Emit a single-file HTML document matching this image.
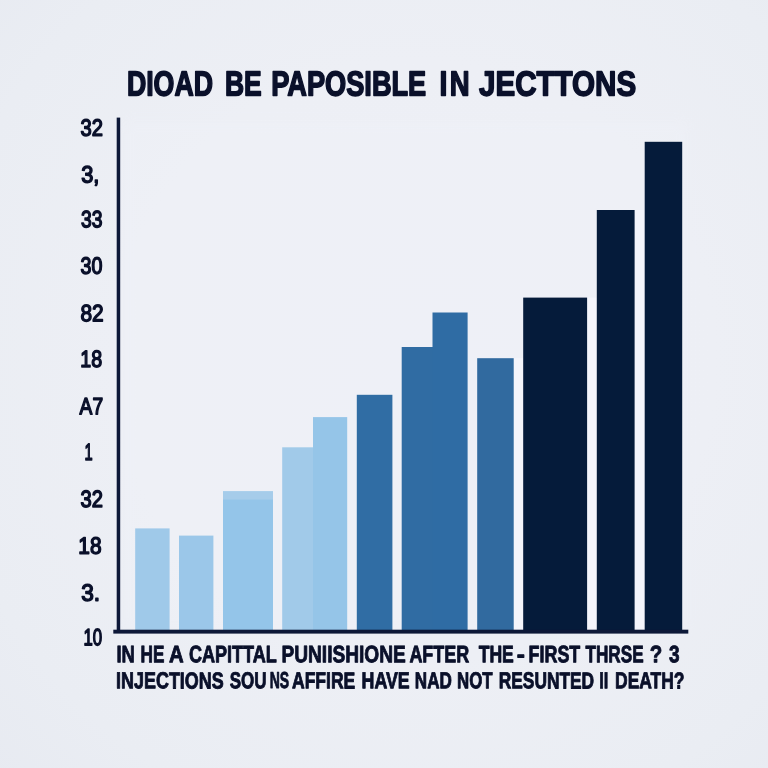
<!DOCTYPE html>
<html lang="en"><head><meta charset="utf-8"><title>Chart</title>
<style>
html,body{margin:0;padding:0;background:#eceef4;}
body{width:768px;height:768px;overflow:hidden;}
svg{display:block;}
text{font-family:"Liberation Sans",sans-serif;font-weight:700;fill:#0a102a;stroke:#0a102a;stroke-linejoin:round;}
.t{stroke-width:1.6px;}
.c{stroke-width:0.9px;}
.y{stroke-width:1.5px;font-weight:400;}
</style></head><body>
<svg width="768" height="768" viewBox="0 0 768 768">
<defs>
<radialGradient id="vg" cx="0.54" cy="0.47" r="0.78">
<stop offset="0" stop-color="#eef0f6"/><stop offset="0.5" stop-color="#edeff5"/><stop offset="0.8" stop-color="#eaedf3"/><stop offset="1" stop-color="#e7eaf1"/>
</radialGradient>
<filter id="bl" x="-10%" y="-10%" width="120%" height="120%"><feGaussianBlur stdDeviation="6"/></filter>
</defs>

<rect width="768" height="768" fill="url(#vg)"/>
<rect x="122" y="120" width="566" height="512" fill="#f1f3fa" opacity="0.25" filter="url(#bl)"/>
<rect x="513.7" y="358.2" width="9.5" height="271.5" fill="#f5f6fb" opacity="0.85"/>
<rect x="587.1" y="297.6" width="9.7" height="332.1" fill="#f5f6fb" opacity="0.85"/>
<rect x="634.6" y="210.0" width="10.1" height="419.7" fill="#f5f6fb" opacity="0.85"/>
<rect x="135.2" y="528.4" width="34.4" height="102.3" fill="#9fc9e9"/>
<rect x="179.0" y="535.6" width="34.4" height="95.1" fill="#9bc7e9"/>
<rect x="223.0" y="491.4" width="50.0" height="139.3" fill="#94c5e9"/>
<rect x="282.2" y="447.3" width="31.3" height="183.4" fill="#a1cae9"/>
<rect x="313.0" y="417.1" width="34.2" height="213.6" fill="#95c5e8"/>
<rect x="356.8" y="394.8" width="35.6" height="235.9" fill="#306da4"/>
<rect x="401.7" y="347.0" width="31.3" height="283.7" fill="#306ca3"/>
<rect x="432.5" y="312.5" width="35.1" height="318.2" fill="#2f6ca4"/>
<rect x="477.2" y="358.2" width="36.5" height="272.5" fill="#316a9f"/>
<rect x="523.2" y="297.6" width="63.9" height="333.1" fill="#051b3a"/>
<rect x="596.8" y="210.0" width="37.8" height="420.7" fill="#051b3a"/>
<rect x="644.7" y="141.8" width="37.5" height="488.9" fill="#051b3a"/>
<rect x="223.0" y="491.4" width="50.0" height="8.2" fill="#a6ccea"/>
<rect x="116.7" y="117.6" width="3.5" height="514" fill="#0d1838"/>
<rect x="113.3" y="629.7" width="575" height="3.9" fill="#0d1838"/>
<text class="t" transform="rotate(0.04 126.9 95.5)" x="126.94" y="95.50" font-size="34.74" textLength="85.98" lengthAdjust="spacingAndGlyphs">DIOAD</text>
<text class="t" transform="rotate(0.04 225.0 95.5)" x="225.02" y="95.50" font-size="34.74" textLength="36.76" lengthAdjust="spacingAndGlyphs">BE</text>
<text class="t" transform="rotate(0.04 271.2 95.5)" x="271.24" y="95.50" font-size="34.74" textLength="155.01" lengthAdjust="spacingAndGlyphs">PAPOSIBLE</text>
<text class="t" transform="rotate(0.04 439.4 95.5)" font-size="34.74"><tspan x="439.41" y="95.50" textLength="7.88" lengthAdjust="spacingAndGlyphs">I</tspan><tspan x="449.69" y="95.50" textLength="19.84" lengthAdjust="spacingAndGlyphs">N</tspan></text>
<text class="t" transform="rotate(0.04 479.0 95.5)" x="479.04" y="95.50" font-size="34.74" textLength="157.07" lengthAdjust="spacingAndGlyphs">JECTTONS</text>
<text class="c" transform="rotate(0.04 116.4 662.1)" x="116.41" y="662.15" font-size="23.84" textLength="18.42" lengthAdjust="spacingAndGlyphs">IN</text>
<text class="c" transform="rotate(0.04 140.6 662.1)" x="140.62" y="662.15" font-size="23.84" textLength="23.86" lengthAdjust="spacingAndGlyphs">HE</text>
<text class="c" transform="rotate(0.04 168.9 662.1)" x="168.89" y="662.15" font-size="23.84" textLength="14.70" lengthAdjust="spacingAndGlyphs">A</text>
<text class="c" transform="rotate(0.04 188.9 662.1)" x="188.90" y="662.15" font-size="23.84" textLength="87.94" lengthAdjust="spacingAndGlyphs">CAPITTAL</text>
<text class="c" transform="rotate(0.04 281.5 662.1)" x="281.45" y="662.15" font-size="23.84" textLength="124.34" lengthAdjust="spacingAndGlyphs">PUNIISHIONE</text>
<text class="c" transform="rotate(0.04 409.4 662.1)" x="409.39" y="662.15" font-size="23.84" textLength="59.90" lengthAdjust="spacingAndGlyphs">AFTER</text>
<text class="c" transform="rotate(0.04 478.7 662.1)" font-size="23.84"><tspan x="478.66" y="662.15" textLength="35.17" lengthAdjust="spacingAndGlyphs">THE</tspan><tspan x="516.67" y="662.15" textLength="8.16" lengthAdjust="spacingAndGlyphs">-</tspan></text>
<text class="c" transform="rotate(0.04 528.6 662.1)" x="528.62" y="662.15" font-size="23.84" textLength="51.69" lengthAdjust="spacingAndGlyphs">FIRST</text>
<text class="c" transform="rotate(0.04 585.4 662.1)" x="585.43" y="662.15" font-size="23.84" textLength="58.16" lengthAdjust="spacingAndGlyphs">THRSE</text>
<text class="c" transform="rotate(0.04 649.8 662.1)" x="649.81" y="662.15" font-size="23.84" textLength="12.48" lengthAdjust="spacingAndGlyphs">?</text>
<text class="c" transform="rotate(0.04 669.0 662.1)" x="669.02" y="662.15" font-size="23.84" textLength="10.57" lengthAdjust="spacingAndGlyphs">3</text>
<text class="c" transform="rotate(0.04 116.1 688.3)" x="116.11" y="688.35" font-size="23.11" textLength="107.55" lengthAdjust="spacingAndGlyphs">INJECTIONS</text>
<text class="c" transform="rotate(0.04 229.7 688.3)" font-size="23.11"><tspan x="229.69" y="688.35" textLength="36.78" lengthAdjust="spacingAndGlyphs">SOU</tspan><tspan x="269.65" y="688.35" textLength="19.42" lengthAdjust="spacingAndGlyphs">NS</tspan></text>
<text class="c" transform="rotate(0.04 292.0 688.3)" x="292.01" y="688.35" font-size="23.11" textLength="63.30" lengthAdjust="spacingAndGlyphs">AFFIRE</text>
<text class="c" transform="rotate(0.04 361.6 688.3)" x="361.56" y="688.35" font-size="23.11" textLength="48.18" lengthAdjust="spacingAndGlyphs">HAVE</text>
<text class="c" transform="rotate(0.04 414.8 688.3)" x="414.82" y="688.35" font-size="23.11" textLength="36.96" lengthAdjust="spacingAndGlyphs">NAD</text>
<text class="c" transform="rotate(0.04 457.1 688.3)" x="457.10" y="688.35" font-size="23.11" textLength="35.49" lengthAdjust="spacingAndGlyphs">NOT</text>
<text class="c" transform="rotate(0.04 498.8 688.3)" x="498.78" y="688.35" font-size="23.11" textLength="95.33" lengthAdjust="spacingAndGlyphs">RESUNTED</text>
<text class="c" transform="rotate(0.04 599.2 688.3)" x="599.22" y="688.35" font-size="23.11" textLength="9.11" lengthAdjust="spacingAndGlyphs">II</text>
<text class="c" transform="rotate(0.04 615.1 688.3)" x="615.08" y="688.35" font-size="23.11" textLength="69.42" lengthAdjust="spacingAndGlyphs">DEATH?</text>
<text class="y" transform="rotate(0.04 80.5 135.9)" x="80.52" y="135.85" font-size="23.57" textLength="22.42" lengthAdjust="spacingAndGlyphs">32</text>
<text class="y" transform="rotate(0.04 81.2 182.5)" x="81.22" y="182.45" font-size="23.57" textLength="18.20" lengthAdjust="spacingAndGlyphs">3,</text>
<text class="y" transform="rotate(0.04 81.1 227.4)" x="81.09" y="227.35" font-size="23.57" textLength="21.49" lengthAdjust="spacingAndGlyphs">33</text>
<text class="y" transform="rotate(0.04 80.5 273.8)" x="80.47" y="273.75" font-size="23.57" textLength="21.84" lengthAdjust="spacingAndGlyphs">30</text>
<text class="y" transform="rotate(0.04 80.5 321.2)" x="80.47" y="321.15" font-size="23.57" textLength="23.19" lengthAdjust="spacingAndGlyphs">82</text>
<text class="y" transform="rotate(0.04 80.3 366.9)" x="80.30" y="366.95" font-size="23.57" textLength="21.84" lengthAdjust="spacingAndGlyphs">18</text>
<text class="y" transform="rotate(0.04 79.6 414.2)" x="79.62" y="414.25" font-size="23.57" textLength="23.43" lengthAdjust="spacingAndGlyphs">A7</text>
<text class="y" transform="rotate(0.04 84.6 460.4)" x="84.57" y="460.35" font-size="23.57" textLength="8.17" lengthAdjust="spacingAndGlyphs">1</text>
<text class="y" transform="rotate(0.04 80.5 506.9)" x="80.52" y="506.95" font-size="23.57" textLength="22.41" lengthAdjust="spacingAndGlyphs">32</text>
<text class="y" transform="rotate(0.04 78.3 553.8)" x="78.32" y="553.75" font-size="23.57" textLength="23.20" lengthAdjust="spacingAndGlyphs">18</text>
<text class="y" transform="rotate(0.04 81.2 600.8)" x="81.19" y="600.85" font-size="23.57" textLength="18.87" lengthAdjust="spacingAndGlyphs">3.</text>
<text class="y" transform="rotate(0.04 83.5 645.2)" x="83.54" y="645.25" font-size="23.57" textLength="18.63" lengthAdjust="spacingAndGlyphs">10</text>
</svg></body></html>
